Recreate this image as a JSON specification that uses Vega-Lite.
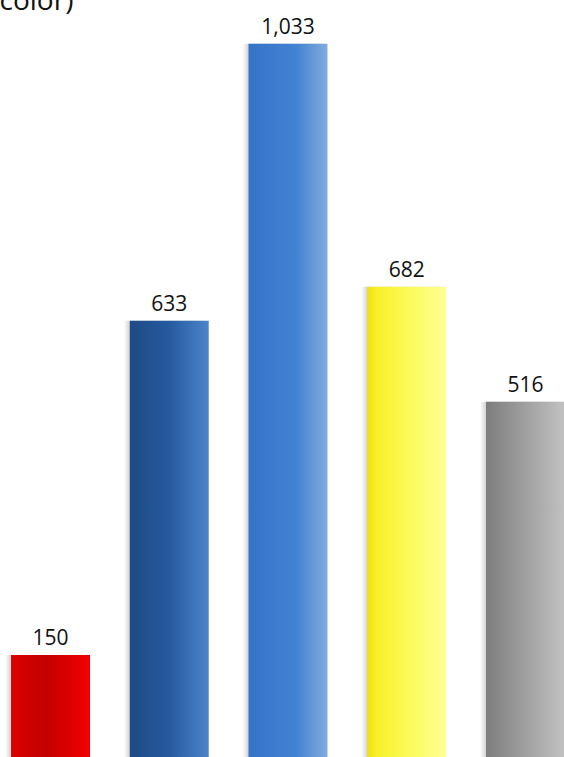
{
  "$schema": "https://vega.github.io/schema/vega-lite/v6.json",
  "autosize": "none",
  "padding": 0,
  "width": 576,
  "height": 759,
  "config": {"view": {"stroke": null}},
  "data": {"values": [
    {"category": "Red", "value": 150},
    {"category": "Dark Blue", "value": 633},
    {"category": "Blue", "value": 1033},
    {"category": "Yellow", "value": 682},
    {"category": "Gray", "value": 516}
  ]},
  "encoding": {
    "x": {"field": "category", "type": "nominal", "sort": null, "axis": null,
          "scale": {"domain": ["Red", "Dark Blue", "Blue", "Yellow", "Gray"], "paddingInner": 0.335, "paddingOuter": 0.093}},
    "y": {"field": "value", "type": "quantitative", "axis": null,
          "scale": {"domain": [0, 1096], "nice": false}}
  },
  "layer": [
    {
      "mark": {"type": "bar", "xOffset": -6,
        "fill": {"gradient": "linear", "x1": 0, "y1": 0, "x2": 1, "y2": 0,
          "stops": [{"offset": 0, "color": "rgba(0,0,0,0)"}, {"offset": 0.08, "color": "rgba(0,0,0,0.18)"}, {"offset": 1, "color": "rgba(0,0,0,0.18)"}]}},
      "encoding": {}
    },
    {
      "transform": [{"filter": "datum.category === 'Red'"}],
      "mark": {"type": "bar", "fill": {"gradient": "linear", "x1": 0, "y1": 0, "x2": 1, "y2": 0, "stops": [{"offset": 0, "color": "#dc0000"}, {"offset": 0.45, "color": "#c30000"}, {"offset": 1, "color": "#f40000"}]}},
      "encoding": {}
    },
    {
      "transform": [{"filter": "datum.category === 'Dark Blue'"}],
      "mark": {"type": "bar", "fill": {"gradient": "linear", "x1": 0, "y1": 0, "x2": 1, "y2": 0, "stops": [{"offset": 0, "color": "#1f4a85"}, {"offset": 0.5, "color": "#255a9e"}, {"offset": 1, "color": "#4d84ca"}]}},
      "encoding": {}
    },
    {
      "transform": [{"filter": "datum.category === 'Blue'"}],
      "mark": {"type": "bar", "fill": {"gradient": "linear", "x1": 0, "y1": 0, "x2": 1, "y2": 0, "stops": [{"offset": 0, "color": "#3573c8"}, {"offset": 0.6, "color": "#4282d2"}, {"offset": 1, "color": "#82acdd"}]}},
      "encoding": {}
    },
    {
      "transform": [{"filter": "datum.category === 'Yellow'"}],
      "mark": {"type": "bar", "fill": {"gradient": "linear", "x1": 0, "y1": 0, "x2": 1, "y2": 0, "stops": [{"offset": 0, "color": "#efe010"}, {"offset": 0.12, "color": "#f8f028"}, {"offset": 0.6, "color": "#fcfc62"}, {"offset": 1, "color": "#ffff95"}]}},
      "encoding": {}
    },
    {
      "transform": [{"filter": "datum.category === 'Gray'"}],
      "mark": {"type": "bar", "fill": {"gradient": "linear", "x1": 0, "y1": 0, "x2": 1, "y2": 0, "stops": [{"offset": 0, "color": "#7d7d7d"}, {"offset": 1, "color": "#c2c2c2"}]}},
      "encoding": {}
    },
    {
      "mark": {"type": "text", "baseline": "alphabetic", "dy": -10, "font": "Open Sans", "fontSize": 21, "color": "#111111"},
      "encoding": {"text": {"field": "value", "type": "quantitative", "format": ","}}
    },
    {
      "transform": [{"filter": "datum.category === 'Red'"}],
      "mark": {"type": "text", "text": "color)", "align": "left", "baseline": "alphabetic", "dx": -51, "dy": 10, "font": "Open Sans", "fontSize": 28, "fill": "#111111"},
      "encoding": {
        "y": {"datum": 1096}
      }
    }
  ]
}
